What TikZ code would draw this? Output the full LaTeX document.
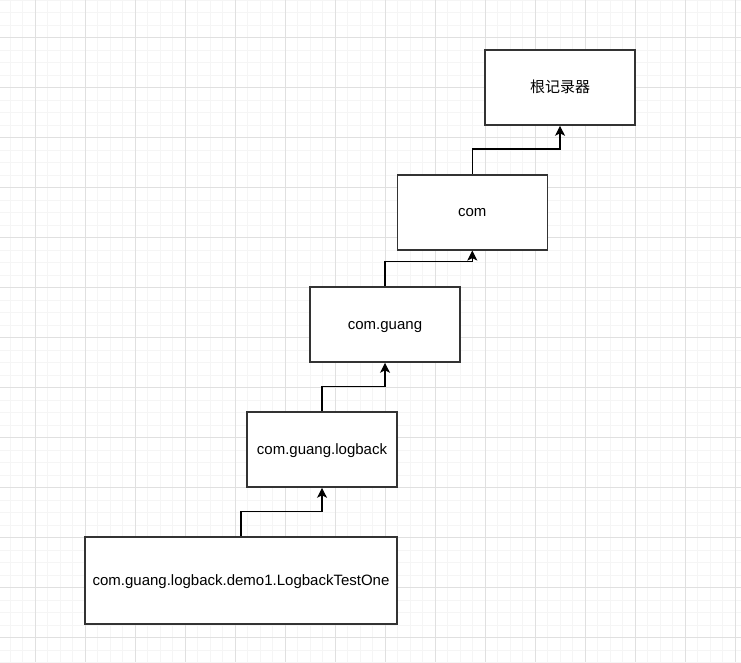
\documentclass[tikz,border=0pt]{standalone}
\usepackage{fontspec}
\setmainfont{Liberation Sans}
\newfontfamily\cjk{Noto Sans CJK SC}
\usetikzlibrary{arrows.meta}
\tikzset{
    logger/.style={draw=black!80, line width=1.6pt, fill=white, minimum width=150pt, minimum height=75pt, inner sep=0pt, text height=11pt, text depth=2pt, font=\fontsize{15}{18}\selectfont},
    parent/.style={draw=black, line width=1.1pt, -{Stealth[length=10pt,width=10pt,inset=2.5pt]}},
}
\begin{document}
\begin{tikzpicture}[x=1pt,y=-1pt]
    \useasboundingbox (0,0) rectangle (741,662);
    \fill[white] (0,0) rectangle (741,662);
    \foreach \i in {0,...,59}{
        \draw[color=black!4, line width=0.8pt] ({10+12.5*\i}, 0) -- ({10+12.5*\i}, 662);
    }
    \foreach \i in {0,...,53}{
        \draw[color=black!4, line width=0.8pt] (0, {12.5*\i}) -- (741, {12.5*\i});
    }
    \foreach \i in {0,...,14}{
        \draw[color=black!12, line width=0.8pt] ({35+50*\i}, 0) -- ({35+50*\i}, 662);
    }
    \foreach \i in {0,...,12}{
        \draw[color=black!12, line width=0.8pt] (0, {37.5+50*\i}) -- (741, {37.5+50*\i});
    }
    \node[logger] (root) at (560, 87.5) {\cjk 根记录器};
    \node[logger] (com) at (472.3, 212.3) {com};
    \node[logger] (guang) at (385, 324.5) {com.guang};
    \node[logger] (logback) at (322, 449.5) {com.guang.logback};
    \node[logger, minimum width=312pt, minimum height=87pt] (testone) at (241, 580.5) {com.guang.logback.demo1.LogbackTestOne};
    \draw[parent] (testone.north) -- ++(0,-25) -| (logback.south);
    \draw[parent] (logback.north) -- ++(0,-25) -| (guang.south);
    \draw[parent] (guang.north) -- ++(0,-25) -| (com.south);
    \draw[parent] (com.north) -- ++(0,-25) -| (root.south);
\end{tikzpicture}
\end{document}
